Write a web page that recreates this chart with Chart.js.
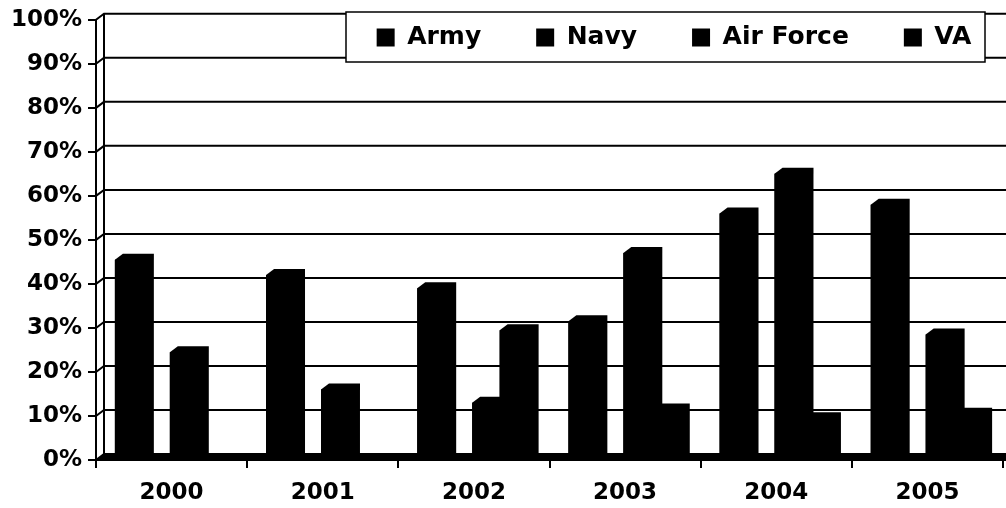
<!DOCTYPE html>
<html><head><meta charset="utf-8">
<script src="https://cdn.jsdelivr.net/npm/chart.js@4"></script>
<style>html,body{margin:0;padding:0;background:#fff;}canvas{display:block;}</style>
</head><body>
<canvas id="c" width="1006" height="508"></canvas>
<script>
const categories = ['2000', '2001', '2002', '2003', '2004', '2005'];
const seriesNames = ['Army', 'Navy', 'Air Force', 'VA'];
const army     = [45.5, 42, 39, 31.5, 56, 58];
const navy     = [0, 0, 0, 0, 0, 0];
const airForce = [24.5, 16, 13, 47, 65, 28.5];
const va       = [0, 0, 29.5, 11.5, 9.5, 10.5];
const yTickValues = [0, 10, 20, 30, 40, 50, 60, 70, 80, 90, 100];
const yTickLabels = ['0%', '10%', '20%', '30%', '40%', '50%', '60%', '70%', '80%', '90%', '100%'];

const FONT = 'DejaVu Sans';
const INK = '#000';

// 3D back wall, gridlines and legend frame (drawn under everything)
const wall3d = {
  id: 'wall3d',
  beforeDraw(chart, args, o) {
    const {ctx, chartArea: a, scales: {y}} = chart;
    const W = chart.width;
    ctx.save();
    ctx.fillStyle = '#fff';
    ctx.fillRect(0, 0, W, chart.height);
    ctx.strokeStyle = INK;
    ctx.lineWidth = o.lineWidth;
    y.ticks.forEach(t => {
      const py = y.getPixelForValue(t.value);
      ctx.beginPath();
      ctx.moveTo(a.left, py);
      ctx.lineTo(a.left + o.dx, py - o.dy);
      ctx.lineTo(W, py - o.dy);
      ctx.stroke();
    });
    const yTop = y.getPixelForValue(y.max), y0 = y.getPixelForValue(0);
    ctx.beginPath();
    ctx.moveTo(a.left + o.dx, yTop - o.dy);
    ctx.lineTo(a.left + o.dx, y0 - o.dy);
    ctx.stroke();
    const f = o.legendFrame;
    ctx.fillStyle = '#fff';
    ctx.fillRect(f.left, f.top, f.width, f.height);
    ctx.lineWidth = o.frameWidth;
    ctx.strokeRect(f.left, f.top, f.width, f.height);
    ctx.restore();
  }
};

// dark floor + full 3D silhouette (front + top + side faces) of each column
const bar3d = {
  id: 'bar3d',
  afterDatasetsDraw(chart, args, o) {
    const {ctx, chartArea: a, scales: {y}} = chart;
    const W = chart.width;
    const y0 = y.getPixelForValue(0);
    ctx.save();
    ctx.fillStyle = INK;
    ctx.beginPath();
    ctx.moveTo(a.left, y0 + 1);
    ctx.lineTo(a.left + o.dx, y0 - o.dy - 1);
    ctx.lineTo(W, y0 - o.dy - 1);
    ctx.lineTo(W, y0 + 1);
    ctx.closePath();
    ctx.fill();
    chart.data.datasets.forEach((ds, i) => {
      const meta = chart.getDatasetMeta(i);
      meta.data.forEach((bar, j) => {
        if (!ds.data[j]) return;
        const p = bar.getProps(['x', 'y', 'base', 'width'], true);
        const x0 = p.x - p.width / 2, x1 = p.x + p.width / 2;
        ctx.beginPath();
        ctx.moveTo(x0, p.base);
        ctx.lineTo(x0, p.y);
        ctx.lineTo(x0 + o.dx, p.y - o.dy);
        ctx.lineTo(x1 + o.dx, p.y - o.dy);
        ctx.lineTo(x1 + o.dx, p.base - o.dy);
        ctx.lineTo(x1, p.base);
        ctx.closePath();
        ctx.fill();
      });
    });
    ctx.restore();
  }
};

// legend floats inside the plot instead of taking layout space
const legendFloat = {
  id: 'legendFloat',
  beforeLayout(chart) {
    const lg = chart.legend;
    if (!lg || lg.__float) return;
    lg.__float = true;
    const fit = lg.fit;
    lg.fit = function () { fit.call(this); this.height = 0; };
  },
  afterLayout(chart, args, o) {
    const lg = chart.legend;
    if (!lg) return;
    Object.assign(lg, {left: o.left, right: o.right, top: o.top, bottom: o.bottom,
      width: o.right - o.left, height: o.bottom - o.top});
  }
};

const seriesData = [army, navy, airForce, va];

new Chart(document.getElementById('c'), {
  type: 'bar',
  data: {
    labels: categories,
    datasets: seriesNames.map((name, i) => ({
      label: name,
      data: seriesData[i],
      backgroundColor: INK,
      borderColor: INK,
      borderWidth: 0,
      categoryPercentage: 0.727,
      barPercentage: 1.127
    }))
  },
  plugins: [wall3d, bar3d, legendFloat],
  options: {
    responsive: false,
    animation: false,
    devicePixelRatio: 1,
    layout: {padding: {left: 8, right: 3, top: 17, bottom: 2}},
    scales: {
      x: {
        offset: true,
        grid: {display: true, drawOnChartArea: false, drawTicks: true, tickLength: 8, offset: true, color: INK, lineWidth: 2},
        border: {display: true, color: INK, width: 2},
        ticks: {color: INK, padding: 11, font: {family: FONT, size: 23, weight: 'bold'}},
        afterFit(s) { s.height = 46; }
      },
      y: {
        min: 0, max: 100,
        afterBuildTicks(s) { s.ticks = yTickValues.map(v => ({value: v})); },
        grid: {display: true, drawOnChartArea: false, drawTicks: true, tickLength: 8, color: INK, lineWidth: 2},
        border: {display: true, color: INK, width: 2},
        ticks: {color: INK, padding: 6, font: {family: FONT, size: 23, weight: 'bold'},
          callback: (v, i) => yTickLabels[i]},
        afterFit(s) { s.width = 88; }
      }
    },
    plugins: {
      tooltip: {enabled: false},
      legend: {
        position: 'top',
        align: 'center',
        labels: {color: INK, font: {family: FONT, size: 25, weight: 'bold'}, boxWidth: 18, boxHeight: 18, padding: 55}
      },
      wall3d: {dx: 8, dy: 6, lineWidth: 2, frameWidth: 1.5,
        legendFrame: {left: 346, top: 12, width: 639, height: 50}},
      bar3d: {dx: 8, dy: 6},
      legendFloat: {left: 310, right: 1038, top: -30, bottom: 62}
    }
  }
});
</script>
</body></html>
